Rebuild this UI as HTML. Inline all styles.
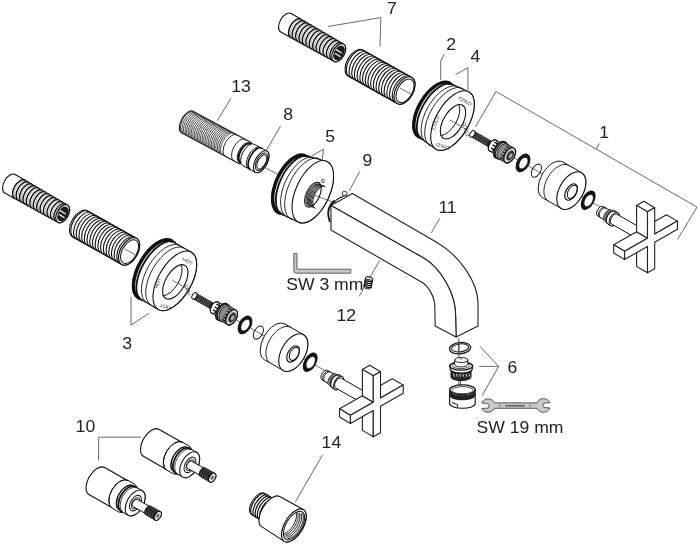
<!DOCTYPE html>
<html><head><meta charset="utf-8"><style>
html,body{margin:0;padding:0;background:#fff;}
svg{display:block;will-change:transform;}
text{font-family:"Liberation Sans",sans-serif;}
</style></head><body>
<svg width="700" height="546" viewBox="0 0 700 546">
<rect width="700" height="546" fill="#fff"/>
<path d="M291.2 13.5L343.6 44.1A5.7 9.9 29.6 0 1 343.7 55.5A5.7 9.9 29.6 0 1 333.8 61.3L280.8 32A6.1 10.6 29.6 0 1 280.7 19.7A6.1 10.6 29.6 0 1 291.2 13.5Z" fill="#fff" stroke="#111" stroke-width="1.1" stroke-linejoin="round"/>
<path d="M290.8 37.5A6 10.5 29.6 0 1 290.7 25.4A6 10.5 29.6 0 1 301.2 19.3" fill="none" stroke="#111" stroke-width="1.4" stroke-linecap="round"/>
<path d="M292.4 38.2A5.9 10.3 29.6 0 1 292.3 26.3A5.9 10.3 29.6 0 1 302.5 20.4" fill="none" stroke="#888" stroke-width="0.6" stroke-linecap="round"/>
<path d="M294.2 39.4A6 10.4 29.6 0 1 294.2 27.4A6 10.4 29.6 0 1 304.5 21.3" fill="none" stroke="#111" stroke-width="1.4" stroke-linecap="round"/>
<path d="M295.8 40.1A5.9 10.2 29.6 0 1 295.8 28.3A5.9 10.2 29.6 0 1 305.9 22.3" fill="none" stroke="#888" stroke-width="0.6" stroke-linecap="round"/>
<path d="M297.7 41.3A6 10.4 29.6 0 1 297.6 29.3A6 10.4 29.6 0 1 307.9 23.3" fill="none" stroke="#111" stroke-width="1.4" stroke-linecap="round"/>
<path d="M299.3 42A5.9 10.2 29.6 0 1 299.2 30.2A5.9 10.2 29.6 0 1 309.3 24.3" fill="none" stroke="#888" stroke-width="0.6" stroke-linecap="round"/>
<path d="M301.1 43.2A6 10.3 29.6 0 1 301 31.3A6 10.3 29.6 0 1 311.3 25.2" fill="none" stroke="#111" stroke-width="1.4" stroke-linecap="round"/>
<path d="M302.7 43.9A5.8 10.1 29.6 0 1 302.6 32.2A5.8 10.1 29.6 0 1 312.7 26.3" fill="none" stroke="#888" stroke-width="0.6" stroke-linecap="round"/>
<path d="M304.5 45.1A5.9 10.3 29.6 0 1 304.4 33.2A5.9 10.3 29.6 0 1 314.7 27.2" fill="none" stroke="#111" stroke-width="1.4" stroke-linecap="round"/>
<path d="M306.1 45.8A5.8 10.1 29.6 0 1 306 34.1A5.8 10.1 29.6 0 1 316 28.2" fill="none" stroke="#888" stroke-width="0.6" stroke-linecap="round"/>
<path d="M307.9 47A5.9 10.2 29.6 0 1 307.9 35.2A5.9 10.2 29.6 0 1 318 29.2" fill="none" stroke="#111" stroke-width="1.4" stroke-linecap="round"/>
<path d="M309.5 47.6A5.8 10 29.6 0 1 309.4 36.1A5.8 10 29.6 0 1 319.4 30.2" fill="none" stroke="#888" stroke-width="0.6" stroke-linecap="round"/>
<path d="M311.4 48.9A5.9 10.2 29.6 0 1 311.3 37.1A5.9 10.2 29.6 0 1 321.4 31.1" fill="none" stroke="#111" stroke-width="1.4" stroke-linecap="round"/>
<path d="M312.9 49.5A5.8 10 29.6 0 1 312.9 38A5.8 10 29.6 0 1 322.8 32.2" fill="none" stroke="#888" stroke-width="0.6" stroke-linecap="round"/>
<path d="M314.8 50.8A5.9 10.2 29.6 0 1 314.7 39.1A5.9 10.2 29.6 0 1 324.8 33.1" fill="none" stroke="#111" stroke-width="1.4" stroke-linecap="round"/>
<path d="M316.4 51.4A5.7 9.9 29.6 0 1 316.3 39.9A5.7 9.9 29.6 0 1 326.2 34.1" fill="none" stroke="#888" stroke-width="0.6" stroke-linecap="round"/>
<path d="M318.2 52.7A5.8 10.1 29.6 0 1 318.1 41A5.8 10.1 29.6 0 1 328.2 35.1" fill="none" stroke="#111" stroke-width="1.4" stroke-linecap="round"/>
<path d="M319.8 53.3A5.7 9.9 29.6 0 1 319.7 41.9A5.7 9.9 29.6 0 1 329.6 36.1" fill="none" stroke="#888" stroke-width="0.6" stroke-linecap="round"/>
<path d="M321.6 54.6A5.8 10.1 29.6 0 1 321.5 42.9A5.8 10.1 29.6 0 1 331.6 37.1" fill="none" stroke="#111" stroke-width="1.4" stroke-linecap="round"/>
<path d="M323.2 55.2A5.7 9.9 29.6 0 1 323.1 43.8A5.7 9.9 29.6 0 1 332.9 38.1" fill="none" stroke="#888" stroke-width="0.6" stroke-linecap="round"/>
<path d="M325 56.4A5.8 10 29.6 0 1 325 44.9A5.8 10 29.6 0 1 334.9 39" fill="none" stroke="#111" stroke-width="1.4" stroke-linecap="round"/>
<path d="M326.6 57.1A5.7 9.8 29.6 0 1 326.5 45.8A5.7 9.8 29.6 0 1 336.3 40" fill="none" stroke="#888" stroke-width="0.6" stroke-linecap="round"/>
<path d="M328.5 58.3A5.8 10 29.6 0 1 328.4 46.8A5.8 10 29.6 0 1 338.3 41" fill="none" stroke="#111" stroke-width="1.4" stroke-linecap="round"/>
<path d="M330 59A5.6 9.8 29.6 0 1 330 47.7A5.6 9.8 29.6 0 1 339.7 42" fill="none" stroke="#888" stroke-width="0.6" stroke-linecap="round"/>
<path d="M331.9 60.2A5.7 9.9 29.6 0 1 331.8 48.8A5.7 9.9 29.6 0 1 341.7 43" fill="none" stroke="#111" stroke-width="1.4" stroke-linecap="round"/>
<path d="M333.5 60.9A5.6 9.7 29.6 0 1 333.4 49.7A5.6 9.7 29.6 0 1 343.1 44" fill="none" stroke="#888" stroke-width="0.6" stroke-linecap="round"/>
<ellipse transform="translate(338.7 52.7) rotate(29.6)" rx="5.7" ry="9.9" fill="#fff" stroke="#111" stroke-width="1.2"/>
<ellipse transform="translate(339 52.9) rotate(29.6)" rx="4.3" ry="7.5" fill="#1e1e1e" stroke="#111" stroke-width="1"/>
<path d="M335.7 49.4 l6 3.6 M335 53.4 l5.5 3.3" stroke="#eee" stroke-width="1.3"/>
<line x1="336.1" y1="51.2" x2="343" y2="55.2" stroke="#333" stroke-width="0.8"/>
<path d="M362.8 49.9L411.9 77.4A8.7 15 29.3 0 1 412.1 94.7A8.7 15 29.3 0 1 397.2 103.6L348.2 76.1A8.7 15 29.3 0 1 348 58.8A8.7 15 29.3 0 1 362.8 49.9Z" fill="#fff" stroke="#111" stroke-width="1.1" stroke-linejoin="round"/>
<path d="M349.5 76.8A8.7 15 29.3 0 1 349.3 59.5A8.7 15 29.3 0 1 364.1 50.7" fill="none" stroke="#111" stroke-width="1.1" stroke-linecap="round"/>
<path d="M352.2 78.3A8.7 15 29.3 0 1 352 61A8.7 15 29.3 0 1 366.9 52.2" fill="none" stroke="#111" stroke-width="1.1" stroke-linecap="round"/>
<path d="M354.9 79.8A8.7 15 29.3 0 1 354.7 62.5A8.7 15 29.3 0 1 369.6 53.7" fill="none" stroke="#111" stroke-width="1.1" stroke-linecap="round"/>
<path d="M357.6 81.4A8.7 15 29.3 0 1 357.4 64A8.7 15 29.3 0 1 372.3 55.2" fill="none" stroke="#111" stroke-width="1.1" stroke-linecap="round"/>
<path d="M360.3 82.9A8.7 15 29.3 0 1 360.1 65.6A8.7 15 29.3 0 1 375 56.7" fill="none" stroke="#111" stroke-width="1.1" stroke-linecap="round"/>
<path d="M363 84.4A8.7 15 29.3 0 1 362.8 67.1A8.7 15 29.3 0 1 377.7 58.2" fill="none" stroke="#111" stroke-width="1.1" stroke-linecap="round"/>
<path d="M365.7 85.9A8.7 15 29.3 0 1 365.5 68.6A8.7 15 29.3 0 1 380.4 59.8" fill="none" stroke="#111" stroke-width="1.1" stroke-linecap="round"/>
<path d="M368.4 87.4A8.7 15 29.3 0 1 368.2 70.1A8.7 15 29.3 0 1 383.1 61.3" fill="none" stroke="#111" stroke-width="1.1" stroke-linecap="round"/>
<path d="M371.1 89A8.7 15 29.3 0 1 370.9 71.6A8.7 15 29.3 0 1 385.8 62.8" fill="none" stroke="#111" stroke-width="1.1" stroke-linecap="round"/>
<path d="M373.8 90.5A8.7 15 29.3 0 1 373.6 73.2A8.7 15 29.3 0 1 388.5 64.3" fill="none" stroke="#111" stroke-width="1.1" stroke-linecap="round"/>
<path d="M376.5 92A8.7 15 29.3 0 1 376.3 74.7A8.7 15 29.3 0 1 391.2 65.8" fill="none" stroke="#111" stroke-width="1.1" stroke-linecap="round"/>
<path d="M379.2 93.5A8.7 15 29.3 0 1 379 76.2A8.7 15 29.3 0 1 393.9 67.3" fill="none" stroke="#111" stroke-width="1.1" stroke-linecap="round"/>
<path d="M381.9 95A8.7 15 29.3 0 1 381.7 77.7A8.7 15 29.3 0 1 396.6 68.9" fill="none" stroke="#111" stroke-width="1.1" stroke-linecap="round"/>
<path d="M384.6 96.5A8.7 15 29.3 0 1 384.4 79.2A8.7 15 29.3 0 1 399.3 70.4" fill="none" stroke="#111" stroke-width="1.1" stroke-linecap="round"/>
<path d="M387.3 98.1A8.7 15 29.3 0 1 387.1 80.7A8.7 15 29.3 0 1 402 71.9" fill="none" stroke="#111" stroke-width="1.1" stroke-linecap="round"/>
<path d="M390 99.6A8.7 15 29.3 0 1 389.8 82.3A8.7 15 29.3 0 1 404.7 73.4" fill="none" stroke="#111" stroke-width="1.1" stroke-linecap="round"/>
<path d="M392.7 101.1A8.7 15 29.3 0 1 392.5 83.8A8.7 15 29.3 0 1 407.4 74.9" fill="none" stroke="#111" stroke-width="1.1" stroke-linecap="round"/>
<path d="M395.4 102.6A8.7 15 29.3 0 1 395.2 85.3A8.7 15 29.3 0 1 410.1 76.4" fill="none" stroke="#111" stroke-width="1.1" stroke-linecap="round"/>
<ellipse transform="translate(404.5 90.5) rotate(29.3)" rx="8.7" ry="15" fill="#fff" stroke="#111" stroke-width="1.2"/>
<ellipse transform="translate(405 90.8) rotate(29.3)" rx="7.4" ry="12.9" fill="#fff" stroke="#111" stroke-width="1"/>
<line x1="400.1" y1="88.1" x2="411.5" y2="94.4" stroke="#333" stroke-width="0.7"/>
<path d="M448.9 82.8L469 92A16.5 33 30 0 1 466.8 128.8A16.5 33 30 0 1 436 149.2L417.9 136.4A15.5 31 30 0 1 420 101.8A15.5 31 30 0 1 448.9 82.8Z" fill="#fff" stroke="#111" stroke-width="1.1" stroke-linejoin="round"/>
<path d="M418.8 136.9A15.5 31 30 0 1 420.9 102.3A15.5 31 30 0 1 449.8 83.3" fill="none" stroke="#111" stroke-width="3.4" stroke-linecap="round"/>
<path d="M421.8 139A15.7 31.3 30 0 1 423.9 104.1A15.7 31.3 30 0 1 453.1 84.8" fill="none" stroke="#111" stroke-width="1.8" stroke-linecap="round"/>
<path d="M426.1 142.3A16 32 30 0 1 428.3 106.6A16 32 30 0 1 458.1 86.9" fill="none" stroke="#111" stroke-width="0.9" stroke-linecap="round"/>
<path d="M429.9 145.7A16.5 33 30 0 1 432.1 108.8A16.5 33 30 0 1 462.9 88.5" fill="none" stroke="#111" stroke-width="0.9" stroke-linecap="round"/>
<ellipse transform="translate(452.5 120.6) rotate(30)" rx="16.5" ry="33" fill="#fff" stroke="#111" stroke-width="1.1"/>
<ellipse transform="translate(453 121.8) rotate(30)" rx="9.6" ry="19.1" fill="#fff" stroke="#111" stroke-width="1.1"/>
<path d="M458.8 104.3A9.4 18.8 30 0 1 455.6 123.3A9.4 18.8 30 0 1 440.7 135.6" fill="none" stroke="#111" stroke-width="1" stroke-linecap="round"/>
<line x1="450.1" y1="120.1" x2="466.1" y2="129.3" stroke="#333" stroke-width="0.7"/>
<text transform="translate(464.5 102.6) rotate(28) scale(1 0.9)" font-size="5.2" text-anchor="middle" fill="#222">COLD</text>
<text transform="translate(437 123.3) rotate(-72) scale(1 0.9)" font-size="5.2" text-anchor="middle" fill="#222">COLD</text>
<text transform="translate(467.3 129.1) rotate(-105) scale(1 0.9)" font-size="5.2" text-anchor="middle" fill="#222">COLD</text>
<text transform="translate(443.5 144.6) rotate(195) scale(1 0.9)" font-size="5.2" text-anchor="middle" fill="#222">COLD</text>
<line x1="472.4" y1="133.9" x2="646" y2="233.3" stroke="#333" stroke-width="0.7"/>
<path d="M473.9 131.3L491.2 141.2A1.7 3 29.8 0 1 491.3 144.7A1.7 3 29.8 0 1 488.3 146.4L470.9 136.5A1.7 3 29.8 0 1 470.9 133A1.7 3 29.8 0 1 473.9 131.3Z" fill="#fff" stroke="#111" stroke-width="1" stroke-linejoin="round"/>
<path d="M476.5 132.8L491.2 141.2A1.7 3 29.8 0 1 491.3 144.7A1.7 3 29.8 0 1 488.3 146.4L473.5 138A1.7 3 29.8 0 1 473.5 134.5A1.7 3 29.8 0 1 476.5 132.8Z" fill="#222" stroke="#111" stroke-width="1" stroke-linejoin="round"/>
<path d="M474.4 138.5A1.7 3 29.8 0 1 474.4 135A1.7 3 29.8 0 1 477.4 133.3" fill="none" stroke="#888" stroke-width="0.6" stroke-linecap="round"/>
<path d="M476.1 139.5A1.7 3 29.8 0 1 476.1 136A1.7 3 29.8 0 1 479.1 134.3" fill="none" stroke="#888" stroke-width="0.6" stroke-linecap="round"/>
<path d="M477.9 140.5A1.7 3 29.8 0 1 477.8 137A1.7 3 29.8 0 1 480.8 135.3" fill="none" stroke="#888" stroke-width="0.6" stroke-linecap="round"/>
<path d="M479.6 141.5A1.7 3 29.8 0 1 479.6 138A1.7 3 29.8 0 1 482.6 136.3" fill="none" stroke="#888" stroke-width="0.6" stroke-linecap="round"/>
<path d="M481.3 142.5A1.7 3 29.8 0 1 481.3 139A1.7 3 29.8 0 1 484.3 137.3" fill="none" stroke="#888" stroke-width="0.6" stroke-linecap="round"/>
<path d="M483.1 143.5A1.7 3 29.8 0 1 483 140A1.7 3 29.8 0 1 486 138.3" fill="none" stroke="#888" stroke-width="0.6" stroke-linecap="round"/>
<path d="M484.8 144.5A1.7 3 29.8 0 1 484.8 141A1.7 3 29.8 0 1 487.8 139.2" fill="none" stroke="#888" stroke-width="0.6" stroke-linecap="round"/>
<path d="M486.5 145.4A1.7 3 29.8 0 1 486.5 142A1.7 3 29.8 0 1 489.5 140.2" fill="none" stroke="#888" stroke-width="0.6" stroke-linecap="round"/>
<ellipse transform="translate(472.4 133.9) rotate(29.8)" rx="2.1" ry="3.6" fill="#fff" stroke="#111" stroke-width="1"/>
<path d="M496 140L503.3 144.2A3.7 6.4 29.8 0 1 503.4 151.6A3.7 6.4 29.8 0 1 497 155.4L489.6 151.1A3.7 6.4 29.8 0 1 489.6 143.7A3.7 6.4 29.8 0 1 496 140Z" fill="#fff" stroke="#111" stroke-width="1" stroke-linejoin="round"/>
<line x1="494.2" y1="142" x2="501.6" y2="146.3" stroke="#111" stroke-width="1.4"/>
<line x1="492.6" y1="144.9" x2="500" y2="149.1" stroke="#111" stroke-width="1.4"/>
<line x1="491" y1="147.8" x2="498.3" y2="152" stroke="#111" stroke-width="1.4"/>
<ellipse transform="translate(492.8 145.6) rotate(29.8)" rx="3.7" ry="6.4" fill="none" stroke="#111" stroke-width="1.1"/>
<path d="M504.7 141.8L507.3 143.3A5.3 9.2 29.8 0 1 507.4 153.9A5.3 9.2 29.8 0 1 498.2 159.3L495.6 157.8A5.3 9.2 29.8 0 1 495.6 147.2A5.3 9.2 29.8 0 1 504.7 141.8Z" fill="#fff" stroke="#111" stroke-width="1" stroke-linejoin="round"/>
<path d="M495.8 157.9A5.3 9.2 29.8 0 1 495.7 147.3A5.3 9.2 29.8 0 1 504.9 141.9" fill="none" stroke="#111" stroke-width="1.6" stroke-linecap="round"/>
<path d="M497.2 158.7A5.3 9.2 29.8 0 1 497.1 148.1A5.3 9.2 29.8 0 1 506.3 142.7" fill="none" stroke="#111" stroke-width="1.2" stroke-linecap="round"/>
<path d="M506.9 144L513.9 148A4.8 8.4 29.8 0 1 513.9 157.7A4.8 8.4 29.8 0 1 505.5 162.6L498.6 158.6A4.8 8.4 29.8 0 1 498.6 148.9A4.8 8.4 29.8 0 1 506.9 144Z" fill="#8a8a8a" stroke="#111" stroke-width="1" stroke-linejoin="round"/>
<line x1="506.2" y1="146.3" x2="512.7" y2="150.1" stroke="#111" stroke-width="1.2"/>
<line x1="504.6" y1="149.1" x2="511.1" y2="152.8" stroke="#111" stroke-width="1.2"/>
<line x1="503" y1="151.9" x2="509.5" y2="155.6" stroke="#111" stroke-width="1.2"/>
<line x1="501.4" y1="154.7" x2="507.9" y2="158.4" stroke="#111" stroke-width="1.2"/>
<line x1="500" y1="157.2" x2="506.5" y2="160.9" stroke="#111" stroke-width="1.2"/>
<ellipse transform="translate(509.7 155.3) rotate(29.8)" rx="4.8" ry="8.4" fill="#ddd" stroke="#111" stroke-width="1.3"/>
<ellipse transform="translate(510.1 155.5) rotate(29.8)" rx="3.2" ry="5.6" fill="#333" stroke="#111" stroke-width="0"/>
<ellipse transform="translate(510.6 155.8) rotate(29.8)" rx="1.5" ry="2.6" fill="#aaa" stroke="#111" stroke-width="0"/>
<ellipse transform="translate(523 162.9) rotate(29.8)" rx="6.3" ry="10.1" fill="#151515" stroke="#111" stroke-width="0"/>
<ellipse transform="translate(523.4 163.1) rotate(29.8)" rx="3.8" ry="6.3" fill="#fff" stroke="#111" stroke-width="0.6"/>
<ellipse transform="translate(536.4 170.6) rotate(29.8)" rx="4.2" ry="7.2" fill="none" stroke="#111" stroke-width="0.9"/>
<path d="M562.9 162L581.6 172.7A11.9 20.6 29.8 0 1 581.6 196.5A11.9 20.6 29.8 0 1 561.1 208.4L542.4 197.7A11.9 20.6 29.8 0 1 542.4 174A11.9 20.6 29.8 0 1 562.9 162Z" fill="#fff" stroke="#111" stroke-width="1" stroke-linejoin="round"/>
<path d="M548.1 201A11.9 20.6 29.8 0 1 548 177.2A11.9 20.6 29.8 0 1 568.5 165.2" fill="none" stroke="#111" stroke-width="0.9" stroke-linecap="round"/>
<ellipse transform="translate(571.3 190.6) rotate(29.8)" rx="11.9" ry="20.6" fill="#fff" stroke="#111" stroke-width="1.1"/>
<ellipse transform="translate(571.1 192) rotate(29.8)" rx="5.2" ry="9" fill="#fff" stroke="#111" stroke-width="1.2"/>
<ellipse transform="translate(572.3 191.8) rotate(29.8)" rx="4.2" ry="7.2" fill="none" stroke="#111" stroke-width="1"/>
<ellipse transform="translate(588.2 200.2) rotate(29.8)" rx="6.1" ry="10.6" fill="#111" stroke="#111" stroke-width="0"/>
<ellipse transform="translate(588.7 200.5) rotate(29.8)" rx="3.8" ry="6.6" fill="#fff" stroke="#111" stroke-width="0.6"/>
<path d="M603.1 206.5L611.4 211.2A3.2 5.5 29.8 0 1 611.4 217.5A3.2 5.5 29.8 0 1 605.9 220.7L597.7 216A3.2 5.5 29.8 0 1 597.6 209.7A3.2 5.5 29.8 0 1 603.1 206.5Z" fill="#fff" stroke="#111" stroke-width="1" stroke-linejoin="round"/>
<path d="M599.4 217A3.2 5.5 29.8 0 1 599.4 210.7A3.2 5.5 29.8 0 1 604.9 207.5" fill="none" stroke="#111" stroke-width="0.9" stroke-linecap="round"/>
<path d="M600.4 217.6A3.2 5.5 29.8 0 1 600.4 211.2A3.2 5.5 29.8 0 1 605.9 208.1" fill="none" stroke="#111" stroke-width="0.8" stroke-linecap="round"/>
<path d="M611.5 210L614.5 211.7A3.8 6.6 29.8 0 1 614.5 219.3A3.8 6.6 29.8 0 1 608 223.2L604.9 221.4A3.8 6.6 29.8 0 1 604.9 213.8A3.8 6.6 29.8 0 1 611.5 210Z" fill="#333" stroke="#111" stroke-width="1" stroke-linejoin="round"/>
<path d="M605.4 221.7A3.8 6.6 29.8 0 1 605.3 214.1A3.8 6.6 29.8 0 1 611.9 210.2" fill="none" stroke="#aaa" stroke-width="0.7" stroke-linecap="round"/>
<path d="M606.3 222.2A3.8 6.6 29.8 0 1 606.3 214.6A3.8 6.6 29.8 0 1 612.9 210.8" fill="none" stroke="#aaa" stroke-width="0.7" stroke-linecap="round"/>
<path d="M607.3 222.8A3.8 6.6 29.8 0 1 607.2 215.2A3.8 6.6 29.8 0 1 613.8 211.3" fill="none" stroke="#aaa" stroke-width="0.7" stroke-linecap="round"/>
<path d="M614.9 211L618 212.8A4.3 7.4 29.8 0 1 618 221.3A4.3 7.4 29.8 0 1 610.6 225.6L607.6 223.9A4.3 7.4 29.8 0 1 607.5 215.3A4.3 7.4 29.8 0 1 614.9 211Z" fill="#fff" stroke="#111" stroke-width="1" stroke-linejoin="round"/>
<path d="M607.8 224A4.3 7.4 29.8 0 1 607.8 215.5A4.3 7.4 29.8 0 1 615.2 211.2" fill="none" stroke="#111" stroke-width="1" stroke-linecap="round"/>
<ellipse transform="translate(614.3 219.2) rotate(29.8)" rx="4.3" ry="7.4" fill="#fff" stroke="#111" stroke-width="1"/>
<path d="M617.1 214.3L644.8 230.2A3.2 5.6 29.8 0 1 644.8 236.7A3.2 5.6 29.8 0 1 639.3 239.9L611.5 224A3.2 5.6 29.8 0 1 611.5 217.6A3.2 5.6 29.8 0 1 617.1 214.3Z" fill="#fff" stroke="#111" stroke-width="1" stroke-linejoin="round"/>
<path d="M647.5 246.4 L647.5 272.8 L636.6 266.4 L636.6 240Z" fill="#fff" stroke="#222" stroke-width="1.1" stroke-linejoin="round"/>
<path d="M647.5 211.8 L654.7 207.7 L643.9 201.2 L636.6 205.4Z" fill="#fff" stroke="#222" stroke-width="1.1" stroke-linejoin="round"/>
<path d="M654.7 234.1 L677.4 221.1 L666.5 214.7 L643.9 227.6Z" fill="#fff" stroke="#222" stroke-width="1.1" stroke-linejoin="round"/>
<path d="M624.6 251.3 L647.5 238.2 L636.6 231.8 L613.7 244.8Z" fill="#fff" stroke="#222" stroke-width="1.1" stroke-linejoin="round"/>
<path d="M647.5 211.8 L647.5 238.2 L636.6 231.8 L636.6 205.4Z" fill="#fff" stroke="#222" stroke-width="1.1" stroke-linejoin="round"/>
<path d="M624.6 251.3 L624.6 259.5 L613.7 253 L613.7 244.8Z" fill="#fff" stroke="#222" stroke-width="1.1" stroke-linejoin="round"/>
<path d="M647.5 211.8 L654.7 207.7 L654.7 234.1 L677.4 221.1 L677.4 229.3 L654.7 242.3 L654.7 268.7 L647.5 272.8 L647.5 246.4 L624.6 259.5 L624.6 251.3 L647.5 238.2Z" fill="#fff" stroke="#222" stroke-width="1.1" stroke-linejoin="round"/>
<path d="M15.2 174.5L67.6 205.1A5.7 9.9 29.6 0 1 67.7 216.5A5.7 9.9 29.6 0 1 57.8 222.3L4.8 193A6.1 10.6 29.6 0 1 4.7 180.7A6.1 10.6 29.6 0 1 15.2 174.5Z" fill="#fff" stroke="#111" stroke-width="1.1" stroke-linejoin="round"/>
<path d="M14.8 198.5A6 10.5 29.6 0 1 14.7 186.4A6 10.5 29.6 0 1 25.2 180.3" fill="none" stroke="#111" stroke-width="1.4" stroke-linecap="round"/>
<path d="M16.4 199.2A5.9 10.3 29.6 0 1 16.3 187.3A5.9 10.3 29.6 0 1 26.5 181.4" fill="none" stroke="#888" stroke-width="0.6" stroke-linecap="round"/>
<path d="M18.2 200.4A6 10.4 29.6 0 1 18.2 188.4A6 10.4 29.6 0 1 28.5 182.3" fill="none" stroke="#111" stroke-width="1.4" stroke-linecap="round"/>
<path d="M19.8 201.1A5.9 10.2 29.6 0 1 19.8 189.3A5.9 10.2 29.6 0 1 29.9 183.3" fill="none" stroke="#888" stroke-width="0.6" stroke-linecap="round"/>
<path d="M21.7 202.3A6 10.4 29.6 0 1 21.6 190.3A6 10.4 29.6 0 1 31.9 184.3" fill="none" stroke="#111" stroke-width="1.4" stroke-linecap="round"/>
<path d="M23.3 203A5.9 10.2 29.6 0 1 23.2 191.2A5.9 10.2 29.6 0 1 33.3 185.3" fill="none" stroke="#888" stroke-width="0.6" stroke-linecap="round"/>
<path d="M25.1 204.2A6 10.3 29.6 0 1 25 192.3A6 10.3 29.6 0 1 35.3 186.2" fill="none" stroke="#111" stroke-width="1.4" stroke-linecap="round"/>
<path d="M26.7 204.9A5.8 10.1 29.6 0 1 26.6 193.2A5.8 10.1 29.6 0 1 36.7 187.3" fill="none" stroke="#888" stroke-width="0.6" stroke-linecap="round"/>
<path d="M28.5 206.1A5.9 10.3 29.6 0 1 28.4 194.2A5.9 10.3 29.6 0 1 38.7 188.2" fill="none" stroke="#111" stroke-width="1.4" stroke-linecap="round"/>
<path d="M30.1 206.8A5.8 10.1 29.6 0 1 30 195.1A5.8 10.1 29.6 0 1 40 189.2" fill="none" stroke="#888" stroke-width="0.6" stroke-linecap="round"/>
<path d="M31.9 208A5.9 10.2 29.6 0 1 31.9 196.2A5.9 10.2 29.6 0 1 42 190.2" fill="none" stroke="#111" stroke-width="1.4" stroke-linecap="round"/>
<path d="M33.5 208.6A5.8 10 29.6 0 1 33.4 197.1A5.8 10 29.6 0 1 43.4 191.2" fill="none" stroke="#888" stroke-width="0.6" stroke-linecap="round"/>
<path d="M35.4 209.9A5.9 10.2 29.6 0 1 35.3 198.1A5.9 10.2 29.6 0 1 45.4 192.1" fill="none" stroke="#111" stroke-width="1.4" stroke-linecap="round"/>
<path d="M36.9 210.5A5.8 10 29.6 0 1 36.9 199A5.8 10 29.6 0 1 46.8 193.2" fill="none" stroke="#888" stroke-width="0.6" stroke-linecap="round"/>
<path d="M38.8 211.8A5.9 10.2 29.6 0 1 38.7 200.1A5.9 10.2 29.6 0 1 48.8 194.1" fill="none" stroke="#111" stroke-width="1.4" stroke-linecap="round"/>
<path d="M40.4 212.4A5.7 9.9 29.6 0 1 40.3 200.9A5.7 9.9 29.6 0 1 50.2 195.1" fill="none" stroke="#888" stroke-width="0.6" stroke-linecap="round"/>
<path d="M42.2 213.7A5.8 10.1 29.6 0 1 42.1 202A5.8 10.1 29.6 0 1 52.2 196.1" fill="none" stroke="#111" stroke-width="1.4" stroke-linecap="round"/>
<path d="M43.8 214.3A5.7 9.9 29.6 0 1 43.7 202.9A5.7 9.9 29.6 0 1 53.6 197.1" fill="none" stroke="#888" stroke-width="0.6" stroke-linecap="round"/>
<path d="M45.6 215.6A5.8 10.1 29.6 0 1 45.5 203.9A5.8 10.1 29.6 0 1 55.6 198.1" fill="none" stroke="#111" stroke-width="1.4" stroke-linecap="round"/>
<path d="M47.2 216.2A5.7 9.9 29.6 0 1 47.1 204.8A5.7 9.9 29.6 0 1 56.9 199.1" fill="none" stroke="#888" stroke-width="0.6" stroke-linecap="round"/>
<path d="M49 217.4A5.8 10 29.6 0 1 49 205.9A5.8 10 29.6 0 1 58.9 200" fill="none" stroke="#111" stroke-width="1.4" stroke-linecap="round"/>
<path d="M50.6 218.1A5.7 9.8 29.6 0 1 50.5 206.8A5.7 9.8 29.6 0 1 60.3 201" fill="none" stroke="#888" stroke-width="0.6" stroke-linecap="round"/>
<path d="M52.5 219.3A5.8 10 29.6 0 1 52.4 207.8A5.8 10 29.6 0 1 62.3 202" fill="none" stroke="#111" stroke-width="1.4" stroke-linecap="round"/>
<path d="M54 220A5.6 9.8 29.6 0 1 54 208.7A5.6 9.8 29.6 0 1 63.7 203" fill="none" stroke="#888" stroke-width="0.6" stroke-linecap="round"/>
<path d="M55.9 221.2A5.7 9.9 29.6 0 1 55.8 209.8A5.7 9.9 29.6 0 1 65.7 204" fill="none" stroke="#111" stroke-width="1.4" stroke-linecap="round"/>
<path d="M57.5 221.9A5.6 9.7 29.6 0 1 57.4 210.7A5.6 9.7 29.6 0 1 67.1 205" fill="none" stroke="#888" stroke-width="0.6" stroke-linecap="round"/>
<ellipse transform="translate(62.7 213.7) rotate(29.6)" rx="5.7" ry="9.9" fill="#fff" stroke="#111" stroke-width="1.2"/>
<ellipse transform="translate(63 213.9) rotate(29.6)" rx="4.3" ry="7.5" fill="#1e1e1e" stroke="#111" stroke-width="1"/>
<path d="M59.7 210.4 l6 3.6 M59 214.4 l5.5 3.3" stroke="#eee" stroke-width="1.3"/>
<line x1="60.1" y1="212.2" x2="67" y2="216.2" stroke="#333" stroke-width="0.8"/>
<path d="M87.4 210.8L136.4 238.3A8.7 15 29.3 0 1 136.6 255.6A8.7 15 29.3 0 1 121.7 264.4L72.7 236.9A8.7 15 29.3 0 1 72.5 219.6A8.7 15 29.3 0 1 87.4 210.8Z" fill="#fff" stroke="#111" stroke-width="1.1" stroke-linejoin="round"/>
<path d="M74 237.7A8.7 15 29.3 0 1 73.8 220.3A8.7 15 29.3 0 1 88.7 211.5" fill="none" stroke="#111" stroke-width="1.1" stroke-linecap="round"/>
<path d="M76.7 239.2A8.7 15 29.3 0 1 76.5 221.9A8.7 15 29.3 0 1 91.4 213" fill="none" stroke="#111" stroke-width="1.1" stroke-linecap="round"/>
<path d="M79.4 240.7A8.7 15 29.3 0 1 79.2 223.4A8.7 15 29.3 0 1 94.1 214.5" fill="none" stroke="#111" stroke-width="1.1" stroke-linecap="round"/>
<path d="M82.1 242.2A8.7 15 29.3 0 1 81.9 224.9A8.7 15 29.3 0 1 96.8 216.1" fill="none" stroke="#111" stroke-width="1.1" stroke-linecap="round"/>
<path d="M84.8 243.7A8.7 15 29.3 0 1 84.6 226.4A8.7 15 29.3 0 1 99.5 217.6" fill="none" stroke="#111" stroke-width="1.1" stroke-linecap="round"/>
<path d="M87.5 245.3A8.7 15 29.3 0 1 87.3 227.9A8.7 15 29.3 0 1 102.2 219.1" fill="none" stroke="#111" stroke-width="1.1" stroke-linecap="round"/>
<path d="M90.2 246.8A8.7 15 29.3 0 1 90 229.5A8.7 15 29.3 0 1 104.9 220.6" fill="none" stroke="#111" stroke-width="1.1" stroke-linecap="round"/>
<path d="M92.9 248.3A8.7 15 29.3 0 1 92.7 231A8.7 15 29.3 0 1 107.6 222.1" fill="none" stroke="#111" stroke-width="1.1" stroke-linecap="round"/>
<path d="M95.6 249.8A8.7 15 29.3 0 1 95.4 232.5A8.7 15 29.3 0 1 110.3 223.6" fill="none" stroke="#111" stroke-width="1.1" stroke-linecap="round"/>
<path d="M98.3 251.3A8.7 15 29.3 0 1 98.1 234A8.7 15 29.3 0 1 113 225.2" fill="none" stroke="#111" stroke-width="1.1" stroke-linecap="round"/>
<path d="M101.1 252.8A8.7 15 29.3 0 1 100.8 235.5A8.7 15 29.3 0 1 115.7 226.7" fill="none" stroke="#111" stroke-width="1.1" stroke-linecap="round"/>
<path d="M103.8 254.4A8.7 15 29.3 0 1 103.5 237A8.7 15 29.3 0 1 118.4 228.2" fill="none" stroke="#111" stroke-width="1.1" stroke-linecap="round"/>
<path d="M106.5 255.9A8.7 15 29.3 0 1 106.3 238.6A8.7 15 29.3 0 1 121.1 229.7" fill="none" stroke="#111" stroke-width="1.1" stroke-linecap="round"/>
<path d="M109.2 257.4A8.7 15 29.3 0 1 109 240.1A8.7 15 29.3 0 1 123.8 231.2" fill="none" stroke="#111" stroke-width="1.1" stroke-linecap="round"/>
<path d="M111.9 258.9A8.7 15 29.3 0 1 111.7 241.6A8.7 15 29.3 0 1 126.5 232.7" fill="none" stroke="#111" stroke-width="1.1" stroke-linecap="round"/>
<path d="M114.6 260.4A8.7 15 29.3 0 1 114.4 243.1A8.7 15 29.3 0 1 129.3 234.3" fill="none" stroke="#111" stroke-width="1.1" stroke-linecap="round"/>
<path d="M117.3 261.9A8.7 15 29.3 0 1 117.1 244.6A8.7 15 29.3 0 1 132 235.8" fill="none" stroke="#111" stroke-width="1.1" stroke-linecap="round"/>
<path d="M120 263.5A8.7 15 29.3 0 1 119.8 246.1A8.7 15 29.3 0 1 134.7 237.3" fill="none" stroke="#111" stroke-width="1.1" stroke-linecap="round"/>
<ellipse transform="translate(129.1 251.4) rotate(29.3)" rx="8.7" ry="15" fill="#fff" stroke="#111" stroke-width="1.2"/>
<ellipse transform="translate(129.6 251.6) rotate(29.3)" rx="7.4" ry="12.9" fill="#fff" stroke="#111" stroke-width="1"/>
<line x1="124.7" y1="248.9" x2="136" y2="255.3" stroke="#333" stroke-width="0.7"/>
<path d="M170.9 240.5L191.3 252.2A16.5 33 30 0 1 189.1 289.1A16.5 33 30 0 1 158.3 309.4L137.9 297.6A16.5 33 30 0 1 140.2 260.8A16.5 33 30 0 1 170.9 240.5Z" fill="#fff" stroke="#111" stroke-width="1.1" stroke-linejoin="round"/>
<path d="M138.8 298.1A16.5 33 30 0 1 141 261.3A16.5 33 30 0 1 171.8 241" fill="none" stroke="#111" stroke-width="3.4" stroke-linecap="round"/>
<path d="M141.8 300.2A16.6 33.3 30 0 1 144 263A16.6 33.3 30 0 1 175.1 242.5" fill="none" stroke="#111" stroke-width="1.8" stroke-linecap="round"/>
<path d="M146.6 302.6A16.5 33 30 0 1 148.8 265.8A16.5 33 30 0 1 179.6 245.5" fill="none" stroke="#111" stroke-width="0.9" stroke-linecap="round"/>
<path d="M150.9 305.1A16.5 33 30 0 1 153.1 268.3A16.5 33 30 0 1 183.9 248" fill="none" stroke="#111" stroke-width="0.9" stroke-linecap="round"/>
<ellipse transform="translate(174.8 280.8) rotate(30)" rx="16.5" ry="33" fill="#fff" stroke="#111" stroke-width="1.1"/>
<ellipse transform="translate(175.3 281.9) rotate(30)" rx="9.6" ry="19.1" fill="#fff" stroke="#111" stroke-width="1.1"/>
<path d="M181.1 264.5A9.4 18.8 30 0 1 177.9 283.5A9.4 18.8 30 0 1 163 295.8" fill="none" stroke="#111" stroke-width="1" stroke-linecap="round"/>
<line x1="172.4" y1="280.3" x2="188.4" y2="289.6" stroke="#333" stroke-width="0.7"/>
<text transform="translate(186.8 262.8) rotate(28) scale(1 0.9)" font-size="5.2" text-anchor="middle" fill="#222">HOT</text>
<text transform="translate(159.3 283.5) rotate(-72) scale(1 0.9)" font-size="5.2" text-anchor="middle" fill="#222">HOT</text>
<text transform="translate(189.6 289.3) rotate(-105) scale(1 0.9)" font-size="5.2" text-anchor="middle" fill="#222">HOT</text>
<text transform="translate(165.8 304.8) rotate(195) scale(1 0.9)" font-size="5.2" text-anchor="middle" fill="#222">HOT</text>
<line x1="194.4" y1="295.9" x2="368" y2="395.3" stroke="#333" stroke-width="0.7"/>
<path d="M195.9 293.3L213.2 303.2A1.7 3 29.8 0 1 213.3 306.7A1.7 3 29.8 0 1 210.3 308.4L192.9 298.5A1.7 3 29.8 0 1 192.9 295A1.7 3 29.8 0 1 195.9 293.3Z" fill="#fff" stroke="#111" stroke-width="1" stroke-linejoin="round"/>
<path d="M198.5 294.8L213.2 303.2A1.7 3 29.8 0 1 213.3 306.7A1.7 3 29.8 0 1 210.3 308.4L195.5 300A1.7 3 29.8 0 1 195.5 296.5A1.7 3 29.8 0 1 198.5 294.8Z" fill="#222" stroke="#111" stroke-width="1" stroke-linejoin="round"/>
<path d="M196.4 300.5A1.7 3 29.8 0 1 196.4 297A1.7 3 29.8 0 1 199.4 295.3" fill="none" stroke="#888" stroke-width="0.6" stroke-linecap="round"/>
<path d="M198.1 301.5A1.7 3 29.8 0 1 198.1 298A1.7 3 29.8 0 1 201.1 296.3" fill="none" stroke="#888" stroke-width="0.6" stroke-linecap="round"/>
<path d="M199.9 302.5A1.7 3 29.8 0 1 199.8 299A1.7 3 29.8 0 1 202.8 297.3" fill="none" stroke="#888" stroke-width="0.6" stroke-linecap="round"/>
<path d="M201.6 303.5A1.7 3 29.8 0 1 201.6 300A1.7 3 29.8 0 1 204.6 298.3" fill="none" stroke="#888" stroke-width="0.6" stroke-linecap="round"/>
<path d="M203.3 304.5A1.7 3 29.8 0 1 203.3 301A1.7 3 29.8 0 1 206.3 299.3" fill="none" stroke="#888" stroke-width="0.6" stroke-linecap="round"/>
<path d="M205.1 305.5A1.7 3 29.8 0 1 205 302A1.7 3 29.8 0 1 208 300.3" fill="none" stroke="#888" stroke-width="0.6" stroke-linecap="round"/>
<path d="M206.8 306.5A1.7 3 29.8 0 1 206.8 303A1.7 3 29.8 0 1 209.8 301.2" fill="none" stroke="#888" stroke-width="0.6" stroke-linecap="round"/>
<path d="M208.5 307.4A1.7 3 29.8 0 1 208.5 304A1.7 3 29.8 0 1 211.5 302.2" fill="none" stroke="#888" stroke-width="0.6" stroke-linecap="round"/>
<ellipse transform="translate(194.4 295.9) rotate(29.8)" rx="2.1" ry="3.6" fill="#fff" stroke="#111" stroke-width="1"/>
<path d="M218 302L225.3 306.2A3.7 6.4 29.8 0 1 225.4 313.6A3.7 6.4 29.8 0 1 219 317.4L211.6 313.1A3.7 6.4 29.8 0 1 211.6 305.7A3.7 6.4 29.8 0 1 218 302Z" fill="#fff" stroke="#111" stroke-width="1" stroke-linejoin="round"/>
<line x1="216.2" y1="304" x2="223.6" y2="308.3" stroke="#111" stroke-width="1.4"/>
<line x1="214.6" y1="306.9" x2="222" y2="311.1" stroke="#111" stroke-width="1.4"/>
<line x1="213" y1="309.8" x2="220.3" y2="314" stroke="#111" stroke-width="1.4"/>
<ellipse transform="translate(214.8 307.6) rotate(29.8)" rx="3.7" ry="6.4" fill="none" stroke="#111" stroke-width="1.1"/>
<path d="M226.7 303.8L229.3 305.3A5.3 9.2 29.8 0 1 229.4 315.9A5.3 9.2 29.8 0 1 220.2 321.3L217.6 319.8A5.3 9.2 29.8 0 1 217.6 309.2A5.3 9.2 29.8 0 1 226.7 303.8Z" fill="#fff" stroke="#111" stroke-width="1" stroke-linejoin="round"/>
<path d="M217.8 319.9A5.3 9.2 29.8 0 1 217.7 309.3A5.3 9.2 29.8 0 1 226.9 303.9" fill="none" stroke="#111" stroke-width="1.6" stroke-linecap="round"/>
<path d="M219.2 320.7A5.3 9.2 29.8 0 1 219.1 310.1A5.3 9.2 29.8 0 1 228.3 304.7" fill="none" stroke="#111" stroke-width="1.2" stroke-linecap="round"/>
<path d="M228.9 306L235.9 310A4.8 8.4 29.8 0 1 235.9 319.7A4.8 8.4 29.8 0 1 227.5 324.6L220.6 320.6A4.8 8.4 29.8 0 1 220.6 310.9A4.8 8.4 29.8 0 1 228.9 306Z" fill="#8a8a8a" stroke="#111" stroke-width="1" stroke-linejoin="round"/>
<line x1="228.2" y1="308.3" x2="234.7" y2="312.1" stroke="#111" stroke-width="1.2"/>
<line x1="226.6" y1="311.1" x2="233.1" y2="314.8" stroke="#111" stroke-width="1.2"/>
<line x1="225" y1="313.9" x2="231.5" y2="317.6" stroke="#111" stroke-width="1.2"/>
<line x1="223.4" y1="316.7" x2="229.9" y2="320.4" stroke="#111" stroke-width="1.2"/>
<line x1="222" y1="319.2" x2="228.5" y2="322.9" stroke="#111" stroke-width="1.2"/>
<ellipse transform="translate(231.7 317.3) rotate(29.8)" rx="4.8" ry="8.4" fill="#ddd" stroke="#111" stroke-width="1.3"/>
<ellipse transform="translate(232.1 317.5) rotate(29.8)" rx="3.2" ry="5.6" fill="#333" stroke="#111" stroke-width="0"/>
<ellipse transform="translate(232.6 317.8) rotate(29.8)" rx="1.5" ry="2.6" fill="#aaa" stroke="#111" stroke-width="0"/>
<ellipse transform="translate(245 324.9) rotate(29.8)" rx="6.3" ry="10.1" fill="#151515" stroke="#111" stroke-width="0"/>
<ellipse transform="translate(245.4 325.1) rotate(29.8)" rx="3.8" ry="6.3" fill="#fff" stroke="#111" stroke-width="0.6"/>
<ellipse transform="translate(258.4 332.6) rotate(29.8)" rx="4.2" ry="7.2" fill="none" stroke="#111" stroke-width="0.9"/>
<path d="M284.9 324L303.6 334.7A11.9 20.6 29.8 0 1 303.6 358.5A11.9 20.6 29.8 0 1 283.1 370.4L264.4 359.7A11.9 20.6 29.8 0 1 264.4 336A11.9 20.6 29.8 0 1 284.9 324Z" fill="#fff" stroke="#111" stroke-width="1" stroke-linejoin="round"/>
<path d="M270.1 363A11.9 20.6 29.8 0 1 270 339.2A11.9 20.6 29.8 0 1 290.5 327.2" fill="none" stroke="#111" stroke-width="0.9" stroke-linecap="round"/>
<ellipse transform="translate(293.3 352.6) rotate(29.8)" rx="11.9" ry="20.6" fill="#fff" stroke="#111" stroke-width="1.1"/>
<ellipse transform="translate(293.1 354) rotate(29.8)" rx="5.2" ry="9" fill="#fff" stroke="#111" stroke-width="1.2"/>
<ellipse transform="translate(294.3 353.8) rotate(29.8)" rx="4.2" ry="7.2" fill="none" stroke="#111" stroke-width="1"/>
<ellipse transform="translate(310.2 362.2) rotate(29.8)" rx="6.1" ry="10.6" fill="#111" stroke="#111" stroke-width="0"/>
<ellipse transform="translate(310.7 362.5) rotate(29.8)" rx="3.8" ry="6.6" fill="#fff" stroke="#111" stroke-width="0.6"/>
<path d="M327.5 370.4L335.7 375.1A3.2 5.5 29.8 0 1 335.7 381.5A3.2 5.5 29.8 0 1 330.3 384.7L322 379.9A3.2 5.5 29.8 0 1 322 373.6A3.2 5.5 29.8 0 1 327.5 370.4Z" fill="#fff" stroke="#111" stroke-width="1" stroke-linejoin="round"/>
<path d="M323.7 380.9A3.2 5.5 29.8 0 1 323.7 374.6A3.2 5.5 29.8 0 1 329.2 371.4" fill="none" stroke="#111" stroke-width="0.9" stroke-linecap="round"/>
<path d="M324.8 381.5A3.2 5.5 29.8 0 1 324.8 375.2A3.2 5.5 29.8 0 1 330.3 372" fill="none" stroke="#111" stroke-width="0.8" stroke-linecap="round"/>
<path d="M335.8 373.9L338.9 375.6A3.8 6.6 29.8 0 1 338.9 383.3A3.8 6.6 29.8 0 1 332.3 387.1L329.3 385.4A3.8 6.6 29.8 0 1 329.3 377.7A3.8 6.6 29.8 0 1 335.8 373.9Z" fill="#333" stroke="#111" stroke-width="1" stroke-linejoin="round"/>
<path d="M329.7 385.6A3.8 6.6 29.8 0 1 329.7 378A3.8 6.6 29.8 0 1 336.3 374.2" fill="none" stroke="#aaa" stroke-width="0.7" stroke-linecap="round"/>
<path d="M330.7 386.2A3.8 6.6 29.8 0 1 330.6 378.5A3.8 6.6 29.8 0 1 337.2 374.7" fill="none" stroke="#aaa" stroke-width="0.7" stroke-linecap="round"/>
<path d="M331.6 386.7A3.8 6.6 29.8 0 1 331.6 379.1A3.8 6.6 29.8 0 1 338.2 375.2" fill="none" stroke="#aaa" stroke-width="0.7" stroke-linecap="round"/>
<path d="M339.3 375L342.3 376.7A4.3 7.4 29.8 0 1 342.3 385.2A4.3 7.4 29.8 0 1 335 389.5L331.9 387.8A4.3 7.4 29.8 0 1 331.9 379.2A4.3 7.4 29.8 0 1 339.3 375Z" fill="#fff" stroke="#111" stroke-width="1" stroke-linejoin="round"/>
<path d="M332.2 387.9A4.3 7.4 29.8 0 1 332.1 379.4A4.3 7.4 29.8 0 1 339.5 375.1" fill="none" stroke="#111" stroke-width="1" stroke-linecap="round"/>
<ellipse transform="translate(338.6 383.1) rotate(29.8)" rx="4.3" ry="7.4" fill="#fff" stroke="#111" stroke-width="1"/>
<path d="M341.4 378.3L366.6 392.7A3.2 5.6 29.8 0 1 366.6 399.1A3.2 5.6 29.8 0 1 361 402.4L335.8 388A3.2 5.6 29.8 0 1 335.8 381.5A3.2 5.6 29.8 0 1 341.4 378.3Z" fill="#fff" stroke="#111" stroke-width="1" stroke-linejoin="round"/>
<path d="M373.3 410.4 L373.3 436.8 L362.4 430.4 L362.4 403.9Z" fill="#fff" stroke="#222" stroke-width="1.1" stroke-linejoin="round"/>
<path d="M373.3 375.8 L380.5 371.7 L369.7 365.2 L362.4 369.4Z" fill="#fff" stroke="#222" stroke-width="1.1" stroke-linejoin="round"/>
<path d="M380.5 398.1 L403.2 385.1 L392.3 378.7 L369.7 391.6Z" fill="#fff" stroke="#222" stroke-width="1.1" stroke-linejoin="round"/>
<path d="M350.4 415.3 L373.3 402.2 L362.4 395.8 L339.5 408.8Z" fill="#fff" stroke="#222" stroke-width="1.1" stroke-linejoin="round"/>
<path d="M373.3 375.8 L373.3 402.2 L362.4 395.8 L362.4 369.4Z" fill="#fff" stroke="#222" stroke-width="1.1" stroke-linejoin="round"/>
<path d="M350.4 415.3 L350.4 423.5 L339.5 417 L339.5 408.8Z" fill="#fff" stroke="#222" stroke-width="1.1" stroke-linejoin="round"/>
<path d="M373.3 375.8 L380.5 371.7 L380.5 398.1 L403.2 385.1 L403.2 393.3 L380.5 406.3 L380.5 432.7 L373.3 436.8 L373.3 410.4 L350.4 423.5 L350.4 415.3 L373.3 402.2Z" fill="#fff" stroke="#222" stroke-width="1.1" stroke-linejoin="round"/>
<path d="M192.9 111.3L250.2 142.1A6 12.1 28.2 0 1 249.8 155.6A6 12.1 28.2 0 1 238.8 163.4L181.5 132.7A6 12.1 28.2 0 1 181.9 119.1A6 12.1 28.2 0 1 192.9 111.3Z" fill="#fff" stroke="#111" stroke-width="1.1" stroke-linejoin="round"/>
<path d="M182.4 133.1A6 12.1 28.2 0 1 182.7 119.6A6 12.1 28.2 0 1 193.8 111.8" fill="none" stroke="#333" stroke-width="0.9" stroke-linecap="round"/>
<path d="M183.9 134A6 12.1 28.2 0 1 184.3 120.4A6 12.1 28.2 0 1 195.3 112.6" fill="none" stroke="#333" stroke-width="0.9" stroke-linecap="round"/>
<path d="M185.4 134.8A6 12.1 28.2 0 1 185.8 121.3A6 12.1 28.2 0 1 196.9 113.5" fill="none" stroke="#333" stroke-width="0.9" stroke-linecap="round"/>
<path d="M187 135.6A6 12.1 28.2 0 1 187.4 122.1A6 12.1 28.2 0 1 198.4 114.3" fill="none" stroke="#333" stroke-width="0.9" stroke-linecap="round"/>
<path d="M188.5 136.4A6 12.1 28.2 0 1 188.9 122.9A6 12.1 28.2 0 1 200 115.1" fill="none" stroke="#333" stroke-width="0.9" stroke-linecap="round"/>
<path d="M190.1 137.3A6 12.1 28.2 0 1 190.5 123.7A6 12.1 28.2 0 1 201.5 115.9" fill="none" stroke="#333" stroke-width="0.9" stroke-linecap="round"/>
<path d="M191.6 138.1A6 12.1 28.2 0 1 192 124.6A6 12.1 28.2 0 1 203.1 116.8" fill="none" stroke="#333" stroke-width="0.9" stroke-linecap="round"/>
<path d="M193.2 138.9A6 12.1 28.2 0 1 193.5 125.4A6 12.1 28.2 0 1 204.6 117.6" fill="none" stroke="#333" stroke-width="0.9" stroke-linecap="round"/>
<path d="M194.7 139.8A6 12.1 28.2 0 1 195.1 126.2A6 12.1 28.2 0 1 206.1 118.4" fill="none" stroke="#333" stroke-width="0.9" stroke-linecap="round"/>
<path d="M196.2 140.6A6 12.1 28.2 0 1 196.6 127.1A6 12.1 28.2 0 1 207.7 119.3" fill="none" stroke="#333" stroke-width="0.9" stroke-linecap="round"/>
<path d="M197.8 141.4A6 12.1 28.2 0 1 198.2 127.9A6 12.1 28.2 0 1 209.2 120.1" fill="none" stroke="#333" stroke-width="0.9" stroke-linecap="round"/>
<path d="M199.3 142.2A6 12.1 28.2 0 1 199.7 128.7A6 12.1 28.2 0 1 210.8 120.9" fill="none" stroke="#333" stroke-width="0.9" stroke-linecap="round"/>
<path d="M200.9 143.1A6 12.1 28.2 0 1 201.3 129.5A6 12.1 28.2 0 1 212.3 121.7" fill="none" stroke="#333" stroke-width="0.9" stroke-linecap="round"/>
<path d="M202.4 143.9A6 12.1 28.2 0 1 202.8 130.4A6 12.1 28.2 0 1 213.8 122.6" fill="none" stroke="#333" stroke-width="0.9" stroke-linecap="round"/>
<path d="M204 144.7A6 12.1 28.2 0 1 204.3 131.2A6 12.1 28.2 0 1 215.4 123.4" fill="none" stroke="#333" stroke-width="0.9" stroke-linecap="round"/>
<path d="M205.5 145.5A6 12.1 28.2 0 1 205.9 132A6 12.1 28.2 0 1 216.9 124.2" fill="none" stroke="#333" stroke-width="0.9" stroke-linecap="round"/>
<path d="M207 146.4A6 12.1 28.2 0 1 207.4 132.8A6 12.1 28.2 0 1 218.5 125" fill="none" stroke="#333" stroke-width="0.9" stroke-linecap="round"/>
<path d="M208.6 147.2A6 12.1 28.2 0 1 209 133.7A6 12.1 28.2 0 1 220 125.9" fill="none" stroke="#333" stroke-width="0.9" stroke-linecap="round"/>
<path d="M210.1 148A6 12.1 28.2 0 1 210.5 134.5A6 12.1 28.2 0 1 221.6 126.7" fill="none" stroke="#333" stroke-width="0.9" stroke-linecap="round"/>
<path d="M211.7 148.8A6 12.1 28.2 0 1 212.1 135.3A6 12.1 28.2 0 1 223.1 127.5" fill="none" stroke="#333" stroke-width="0.9" stroke-linecap="round"/>
<path d="M213.2 149.7A6 12.1 28.2 0 1 213.6 136.2A6 12.1 28.2 0 1 224.6 128.3" fill="none" stroke="#333" stroke-width="0.9" stroke-linecap="round"/>
<path d="M214.8 150.5A6 12.1 28.2 0 1 215.1 137A6 12.1 28.2 0 1 226.2 129.2" fill="none" stroke="#333" stroke-width="0.9" stroke-linecap="round"/>
<path d="M216.3 151.3A6 12.1 28.2 0 1 216.7 137.8A6 12.1 28.2 0 1 227.7 130" fill="none" stroke="#333" stroke-width="0.9" stroke-linecap="round"/>
<path d="M217.8 152.2A6 12.1 28.2 0 1 218.2 138.6A6 12.1 28.2 0 1 229.3 130.8" fill="none" stroke="#333" stroke-width="0.9" stroke-linecap="round"/>
<path d="M219.4 153A6 12.1 28.2 0 1 219.8 139.5A6 12.1 28.2 0 1 230.8 131.7" fill="none" stroke="#333" stroke-width="0.9" stroke-linecap="round"/>
<path d="M220.9 153.8A6 12.1 28.2 0 1 221.3 140.3A6 12.1 28.2 0 1 232.4 132.5" fill="none" stroke="#333" stroke-width="0.9" stroke-linecap="round"/>
<path d="M222.5 154.6A6 12.1 28.2 0 1 222.8 141.1A6 12.1 28.2 0 1 233.9 133.3" fill="none" stroke="#333" stroke-width="0.9" stroke-linecap="round"/>
<path d="M225.1 156.1A6 12.1 28.2 0 1 225.5 142.5A6 12.1 28.2 0 1 236.5 134.7" fill="none" stroke="#111" stroke-width="0.9" stroke-linecap="round"/>
<path d="M233.5 160.5A6 12.1 28.2 0 1 233.9 147A6 12.1 28.2 0 1 244.9 139.2" fill="none" stroke="#111" stroke-width="0.9" stroke-linecap="round"/>
<path d="M249.1 143.1L253.9 145.7A5.3 10.6 28.2 0 1 253.6 157.6A5.3 10.6 28.2 0 1 243.9 164.4L239 161.8A5.3 10.6 28.2 0 1 239.4 150A5.3 10.6 28.2 0 1 249.1 143.1Z" fill="#fff" stroke="#111" stroke-width="1" stroke-linejoin="round"/>
<path d="M240.4 162.5A5.3 10.6 28.2 0 1 240.7 150.7A5.3 10.6 28.2 0 1 250.4 143.8" fill="none" stroke="#111" stroke-width="2" stroke-linecap="round"/>
<path d="M254.2 144.2L266.9 151A6 12.1 28.2 0 1 266.6 164.6A6 12.1 28.2 0 1 255.5 172.4L242.7 165.5A6 12.1 28.2 0 1 243.1 152A6 12.1 28.2 0 1 254.2 144.2Z" fill="#fff" stroke="#111" stroke-width="1" stroke-linejoin="round"/>
<path d="M248.5 168.6A6 12.1 28.2 0 1 248.8 155.1A6 12.1 28.2 0 1 259.9 147.3" fill="none" stroke="#111" stroke-width="1" stroke-linecap="round"/>
<path d="M250.2 169.5A6 12.1 28.2 0 1 250.6 156A6 12.1 28.2 0 1 261.7 148.2" fill="none" stroke="#111" stroke-width="1.6" stroke-linecap="round"/>
<ellipse transform="translate(261.2 161.7) rotate(28.2)" rx="6" ry="12.1" fill="#fff" stroke="#111" stroke-width="1.1"/>
<ellipse transform="translate(261.5 161.8) rotate(28.2)" rx="4.8" ry="9.6" fill="#fff" stroke="#111" stroke-width="0.9"/>
<ellipse transform="translate(261.8 162) rotate(28.2)" rx="3.9" ry="7.8" fill="#fff" stroke="#111" stroke-width="1"/>
<line x1="262" y1="166" x2="300" y2="186" stroke="#333" stroke-width="0.7"/>
<path d="M303.9 155.1L326.3 161.2A16.8 33.5 25 0 1 328.6 197.5A16.8 33.5 25 0 1 299.3 222.4L278.5 212.7A15.8 31.5 25 0 1 276.3 178.5A15.8 31.5 25 0 1 303.9 155.1Z" fill="#fff" stroke="#111" stroke-width="1.1" stroke-linejoin="round"/>
<path d="M279.5 213.1A15.8 31.5 25 0 1 277.3 178.9A15.8 31.5 25 0 1 304.8 155.5" fill="none" stroke="#111" stroke-width="3.4" stroke-linecap="round"/>
<path d="M282.7 214.6A15.9 31.8 25 0 1 280.5 180.1A15.9 31.8 25 0 1 308.3 156.4" fill="none" stroke="#111" stroke-width="1.8" stroke-linecap="round"/>
<path d="M287.5 217.1A16.2 32.5 25 0 1 285.3 181.8A16.2 32.5 25 0 1 313.7 157.6" fill="none" stroke="#111" stroke-width="0.9" stroke-linecap="round"/>
<path d="M291.8 219.7A16.8 33.5 25 0 1 289.5 183.3A16.8 33.5 25 0 1 318.8 158.4" fill="none" stroke="#111" stroke-width="0.9" stroke-linecap="round"/>
<ellipse transform="translate(312.8 191.8) rotate(25)" rx="16.8" ry="33.5" fill="#fff" stroke="#111" stroke-width="1.1"/>
<ellipse transform="translate(312.9 194.7) rotate(25)" rx="6.7" ry="13.4" fill="#fff" stroke="#111" stroke-width="1.1"/>
<path d="M308.5 205.9A6 12.1 25 0 1 307.7 192.8A6 12.1 25 0 1 318.2 183.8" fill="none" stroke="#222" stroke-width="1" stroke-linecap="round"/>
<path d="M309.6 206.3A6 12.1 25 0 1 308.8 193.2A6 12.1 25 0 1 319.3 184.2" fill="none" stroke="#222" stroke-width="1" stroke-linecap="round"/>
<path d="M310.7 206.7A6 12.1 25 0 1 309.9 193.6A6 12.1 25 0 1 320.4 184.6" fill="none" stroke="#222" stroke-width="1" stroke-linecap="round"/>
<path d="M311.9 207.1A6 12.1 25 0 1 311 194A6 12.1 25 0 1 321.6 185" fill="none" stroke="#222" stroke-width="1" stroke-linecap="round"/>
<path d="M313 207.5A6 12.1 25 0 1 312.2 194.4A6 12.1 25 0 1 322.7 185.5" fill="none" stroke="#222" stroke-width="1" stroke-linecap="round"/>
<path d="M314.1 207.9A6 12.1 25 0 1 313.3 194.8A6 12.1 25 0 1 323.8 185.9" fill="none" stroke="#222" stroke-width="1" stroke-linecap="round"/>
<path d="M315.3 208.3A6 12.1 25 0 1 314.4 195.2A6 12.1 25 0 1 325 186.3" fill="none" stroke="#222" stroke-width="1" stroke-linecap="round"/>
<line x1="314.3" y1="195.2" x2="354.7" y2="209.9" stroke="#333" stroke-width="0.7"/>
<ellipse cx="322.9" cy="180.9" rx="1.4" ry="1.8" fill="#fff" stroke="#222" stroke-width="0.8"/>
<path d="M352.4 193.6 L437 242.4 C459.5 255.4 478 282.5 478 303 L478 326.1 L456.1 337.1 L455.6 315 C455.6 294 441.1 268.1 423.6 258 L331 205.6 Z" fill="#fff" stroke="#222" stroke-width="1.1" stroke-linejoin="round"/>
<path d="M331 205.6 L423.6 258 C441.1 268.1 455.6 294 455.6 315 L456.1 337.1 L435.2 326.1 L434.8 306.3 C434.8 297.2 428.7 286.3 421.4 282.1 L331 229.9 Z" fill="#fff" stroke="#222" stroke-width="1.1" stroke-linejoin="round"/>
<path d="M334.5 200.5 C328 206 327 214 330 222" fill="none" stroke="#111" stroke-width="1.8"/>
<path d="M333 203 C338 198 343 196 347 195" fill="none" stroke="#111" stroke-width="1.2"/>
<ellipse cx="344.6" cy="193.4" rx="2.6" ry="2" fill="#fff" stroke="#222" stroke-width="0.9"/>
<path d="M293.8 253.5 L297 253.5 L297 269.2 L350.8 269.2 L350.8 273.2 L296.3 273.2 Q293.8 273.2 293.8 270.7 Z" fill="#c6c6c6" stroke="#444" stroke-width="0.8"/>
<path d="M363.8 286.5L365.7 277.6A1.6 3.6 -78 0 1 369.6 276.8A1.6 3.6 -78 0 1 372.8 279.1L370.9 288A1.6 3.6 -78 0 1 367 288.8A1.6 3.6 -78 0 1 363.8 286.5Z" fill="#fff" stroke="#111" stroke-width="0.9" stroke-linejoin="round"/>
<path d="M371.2 286.5A1.6 3.6 -78 0 1 367.3 287.3A1.6 3.6 -78 0 1 364.2 285" fill="none" stroke="#111" stroke-width="1.3" stroke-linecap="round"/>
<path d="M371.6 284.5A1.6 3.6 -78 0 1 367.8 285.4A1.6 3.6 -78 0 1 364.6 283" fill="none" stroke="#111" stroke-width="1.3" stroke-linecap="round"/>
<path d="M372 282.6A1.6 3.6 -78 0 1 368.2 283.4A1.6 3.6 -78 0 1 365 281.1" fill="none" stroke="#111" stroke-width="1.3" stroke-linecap="round"/>
<path d="M372.4 280.6A1.6 3.6 -78 0 1 368.6 281.5A1.6 3.6 -78 0 1 365.4 279.1" fill="none" stroke="#111" stroke-width="1.3" stroke-linecap="round"/>
<ellipse transform="translate(369.2 278.4) rotate(-78)" rx="1.6" ry="3.6" fill="#fff" stroke="#111" stroke-width="0.9"/>
<line x1="458.8" y1="338" x2="458.8" y2="386" stroke="#333" stroke-width="0.8"/>
<g transform="translate(460.1 348.2) rotate(-6)"><ellipse rx="10.6" ry="5.6" fill="none" stroke="#222" stroke-width="1.3"/><ellipse cy="-0.3" rx="8.6" ry="4.0" fill="none" stroke="#222" stroke-width="1.1"/></g>
<line x1="458.8" y1="344.3" x2="458.8" y2="352" stroke="#333" stroke-width="0.9"/>
<path d="M451 370 L451 377 A10 3.6 0 0 0 471 377 L471 370 Z" fill="#2a2a2a" stroke="#111" stroke-width="1"/>
<path d="M452.6 371.2 L453.8 376.5 L455 376.5 Z" fill="#eee"/>
<path d="M455.7 371.2 L456.9 376.5 L458.1 376.5 Z" fill="#eee"/>
<path d="M458.8 371.2 L460 376.5 L461.2 376.5 Z" fill="#eee"/>
<path d="M461.9 371.2 L463.1 376.5 L464.3 376.5 Z" fill="#eee"/>
<path d="M465 371.2 L466.2 376.5 L467.4 376.5 Z" fill="#eee"/>
<path d="M468.1 371.2 L469.3 376.5 L470.5 376.5 Z" fill="#eee"/>
<path d="M449.8 366 L450.3 369.5 A11 4 0 0 0 472.2 369.5 L472.6 366 Z" fill="#fff" stroke="#111" stroke-width="1.1"/>
<ellipse cx="461.2" cy="366" rx="11.4" ry="4.2" fill="#fff" stroke="#111" stroke-width="1.3"/>
<ellipse cx="461.2" cy="365.6" rx="8.8" ry="3.0" fill="none" stroke="#333" stroke-width="0.9"/>
<path d="M454.6 360 L454.6 364.5 A6.6 2.4 0 0 0 467.8 364.5 L467.8 360 Z" fill="#fff" stroke="#222" stroke-width="1"/>
<ellipse cx="461.2" cy="360" rx="6.6" ry="2.5" fill="#fff" stroke="#222" stroke-width="1"/>
<line x1="461" y1="357.5" x2="461" y2="360" stroke="#333" stroke-width="0.8"/>
<line x1="460.5" y1="379" x2="460.5" y2="386" stroke="#333" stroke-width="0.8"/>
<path d="M449.6 389.7 L449.6 403.5 A12.8 4.8 0 0 0 475.2 403.5 L475.2 389.7 Z" fill="#fff" stroke="#111" stroke-width="1.1"/>
<path d="M449.6 390.5 A12.8 4.8 0 0 0 475.2 390.5 L475.2 395.5 A12.8 4.8 0 0 1 449.6 395.5 Z" fill="#222"/>
<ellipse cx="462.4" cy="389.7" rx="12.8" ry="4.8" fill="#fff" stroke="#111" stroke-width="1.3"/>
<ellipse cx="462.4" cy="390.3" rx="10.8" ry="3.6" fill="none" stroke="#333" stroke-width="0.9"/>
<path d="M452 402.5 L457.5 404.6 L457.5 407.5" fill="none" stroke="#222" stroke-width="1"/>
<path d="M494.6 402.9 A7.2 7.2 0 0 0 481.7 402.9 L486.8 403.6 A2.35 2.35 0 0 1 486.8 408.3 L481.7 408.4 A7.2 7.2 0 0 0 494.6 408.3 L537 408.3 A7 7 0 0 0 549.8 408 L545.2 407.6 A2.3 2.3 0 0 1 545.2 403 L549.8 402.7 A7 7 0 0 0 537 402.9 Z" fill="#c9c9c9" stroke="#444" stroke-width="0.9" stroke-linejoin="round"/>
<path d="M505.3 405.8 L524.7 405.8" stroke="#666" stroke-width="1.6"/>
<circle cx="499.7" cy="405.6" r="0.9" fill="none" stroke="#666" stroke-width="0.6"/><circle cx="530.2" cy="405.6" r="0.9" fill="none" stroke="#666" stroke-width="0.6"/>
<path d="M159.2 429.4L182.7 442.8A9 15.6 29.7 0 1 182.8 460.8A9 15.6 29.7 0 1 167.2 469.9L143.8 456.6A9 15.6 29.7 0 1 143.7 438.5A9 15.6 29.7 0 1 159.2 429.4Z" fill="#fff" stroke="#111" stroke-width="1.1" stroke-linejoin="round"/>
<path d="M182.4 442.2L189 445.9A9.2 16 29.7 0 1 189.1 464.4A9.2 16 29.7 0 1 173.1 473.7L166.6 470A9.2 16 29.7 0 1 166.5 451.6A9.2 16 29.7 0 1 182.4 442.2Z" fill="#fff" stroke="#111" stroke-width="1" stroke-linejoin="round"/>
<path d="M166.6 470A9.2 16 29.7 0 1 166.5 451.6A9.2 16 29.7 0 1 182.4 442.2" fill="none" stroke="#111" stroke-width="1" stroke-linecap="round"/>
<line x1="178.7" y1="449.9" x2="184.7" y2="453.3" stroke="#222" stroke-width="0.9"/>
<line x1="171.8" y1="460.9" x2="178.3" y2="464.6" stroke="#222" stroke-width="0.9"/>
<path d="M187.6 447.3L196.8 452.5A8.2 14.2 29.7 0 1 196.8 468.9A8.2 14.2 29.7 0 1 182.7 477.1L173.6 471.9A8.2 14.2 29.7 0 1 173.5 455.5A8.2 14.2 29.7 0 1 187.6 447.3Z" fill="#fff" stroke="#111" stroke-width="1" stroke-linejoin="round"/>
<path d="M174 472.2A8.2 14.2 29.7 0 1 173.9 455.8A8.2 14.2 29.7 0 1 188.1 447.5" fill="none" stroke="#111" stroke-width="1" stroke-linecap="round"/>
<path d="M175.7 473.2A8.2 14.2 29.7 0 1 175.7 456.8A8.2 14.2 29.7 0 1 189.8 448.5" fill="none" stroke="#111" stroke-width="1.7" stroke-linecap="round"/>
<path d="M177.5 474.1A8.1 14.1 29.7 0 1 177.4 457.8A8.1 14.1 29.7 0 1 191.5 449.6" fill="none" stroke="#111" stroke-width="0.8" stroke-linecap="round"/>
<ellipse transform="translate(189.7 464.8) rotate(29.7)" rx="8.2" ry="14.2" fill="#fff" stroke="#111" stroke-width="1.1"/>
<ellipse transform="translate(190 464.9) rotate(29.7)" rx="4.9" ry="8.5" fill="#fff" stroke="#111" stroke-width="1"/>
<ellipse transform="translate(190.2 465.1) rotate(29.7)" rx="3.5" ry="6" fill="none" stroke="#111" stroke-width="0.9"/>
<path d="M191.8 461.2L205.2 468.9A2.4 4.1 29.7 0 1 205.2 473.7A2.4 4.1 29.7 0 1 201.2 476L187.7 468.4A2.4 4.1 29.7 0 1 187.7 463.6A2.4 4.1 29.7 0 1 191.8 461.2Z" fill="#fff" stroke="#111" stroke-width="1" stroke-linejoin="round"/>
<path d="M205.2 467.9L214.8 473.3A2.9 5 29.7 0 1 214.8 479.1A2.9 5 29.7 0 1 209.8 482L200.3 476.6A2.9 5 29.7 0 1 200.2 470.8A2.9 5 29.7 0 1 205.2 467.9Z" fill="#1a1a1a" stroke="#111" stroke-width="1" stroke-linejoin="round"/>
<path d="M201.6 477.3A2.9 5 29.7 0 1 201.5 471.5A2.9 5 29.7 0 1 206.5 468.6" fill="none" stroke="#777" stroke-width="0.6" stroke-linecap="round"/>
<path d="M203.6 478.5A2.9 5 29.7 0 1 203.5 472.7A2.9 5 29.7 0 1 208.5 469.8" fill="none" stroke="#777" stroke-width="0.6" stroke-linecap="round"/>
<path d="M205.6 479.6A2.9 5 29.7 0 1 205.5 473.8A2.9 5 29.7 0 1 210.5 470.9" fill="none" stroke="#777" stroke-width="0.6" stroke-linecap="round"/>
<path d="M207.6 480.7A2.9 5 29.7 0 1 207.5 475A2.9 5 29.7 0 1 212.5 472.1" fill="none" stroke="#777" stroke-width="0.6" stroke-linecap="round"/>
<ellipse transform="translate(212.3 477.7) rotate(29.7)" rx="2.9" ry="5" fill="#ddd" stroke="#111" stroke-width="1"/>
<ellipse transform="translate(212.3 477.7) rotate(29.7)" rx="1.3" ry="2.2" fill="#666" stroke="#111" stroke-width="0"/>
<path d="M104.7 467.6L128.2 481A9 15.6 29.7 0 1 128.3 499A9 15.6 29.7 0 1 112.7 508.1L89.3 494.8A9 15.6 29.7 0 1 89.2 476.7A9 15.6 29.7 0 1 104.7 467.6Z" fill="#fff" stroke="#111" stroke-width="1.1" stroke-linejoin="round"/>
<path d="M127.9 480.4L134.5 484.1A9.2 16 29.7 0 1 134.6 502.6A9.2 16 29.7 0 1 118.6 511.9L112.1 508.2A9.2 16 29.7 0 1 112 489.8A9.2 16 29.7 0 1 127.9 480.4Z" fill="#fff" stroke="#111" stroke-width="1" stroke-linejoin="round"/>
<path d="M112.1 508.2A9.2 16 29.7 0 1 112 489.8A9.2 16 29.7 0 1 127.9 480.4" fill="none" stroke="#111" stroke-width="1" stroke-linecap="round"/>
<line x1="124.2" y1="488.1" x2="130.2" y2="491.5" stroke="#222" stroke-width="0.9"/>
<line x1="117.3" y1="499.1" x2="123.8" y2="502.8" stroke="#222" stroke-width="0.9"/>
<path d="M133.1 485.5L142.3 490.7A8.2 14.2 29.7 0 1 142.3 507.1A8.2 14.2 29.7 0 1 128.2 515.3L119.1 510.1A8.2 14.2 29.7 0 1 119 493.7A8.2 14.2 29.7 0 1 133.1 485.5Z" fill="#fff" stroke="#111" stroke-width="1" stroke-linejoin="round"/>
<path d="M119.5 510.4A8.2 14.2 29.7 0 1 119.4 494A8.2 14.2 29.7 0 1 133.6 485.7" fill="none" stroke="#111" stroke-width="1" stroke-linecap="round"/>
<path d="M121.2 511.4A8.2 14.2 29.7 0 1 121.2 495A8.2 14.2 29.7 0 1 135.3 486.7" fill="none" stroke="#111" stroke-width="1.7" stroke-linecap="round"/>
<path d="M123 512.3A8.1 14.1 29.7 0 1 122.9 496A8.1 14.1 29.7 0 1 137 487.8" fill="none" stroke="#111" stroke-width="0.8" stroke-linecap="round"/>
<ellipse transform="translate(135.2 503) rotate(29.7)" rx="8.2" ry="14.2" fill="#fff" stroke="#111" stroke-width="1.1"/>
<ellipse transform="translate(135.5 503.1) rotate(29.7)" rx="4.9" ry="8.5" fill="#fff" stroke="#111" stroke-width="1"/>
<ellipse transform="translate(135.7 503.3) rotate(29.7)" rx="3.5" ry="6" fill="none" stroke="#111" stroke-width="0.9"/>
<path d="M137.3 499.4L150.7 507.1A2.4 4.1 29.7 0 1 150.7 511.9A2.4 4.1 29.7 0 1 146.7 514.2L133.2 506.6A2.4 4.1 29.7 0 1 133.2 501.8A2.4 4.1 29.7 0 1 137.3 499.4Z" fill="#fff" stroke="#111" stroke-width="1" stroke-linejoin="round"/>
<path d="M150.7 506.1L160.3 511.5A2.9 5 29.7 0 1 160.3 517.3A2.9 5 29.7 0 1 155.3 520.2L145.8 514.8A2.9 5 29.7 0 1 145.7 509A2.9 5 29.7 0 1 150.7 506.1Z" fill="#1a1a1a" stroke="#111" stroke-width="1" stroke-linejoin="round"/>
<path d="M147.1 515.5A2.9 5 29.7 0 1 147 509.7A2.9 5 29.7 0 1 152 506.8" fill="none" stroke="#777" stroke-width="0.6" stroke-linecap="round"/>
<path d="M149.1 516.7A2.9 5 29.7 0 1 149 510.9A2.9 5 29.7 0 1 154 508" fill="none" stroke="#777" stroke-width="0.6" stroke-linecap="round"/>
<path d="M151.1 517.8A2.9 5 29.7 0 1 151 512A2.9 5 29.7 0 1 156 509.1" fill="none" stroke="#777" stroke-width="0.6" stroke-linecap="round"/>
<path d="M153.1 518.9A2.9 5 29.7 0 1 153 513.2A2.9 5 29.7 0 1 158 510.3" fill="none" stroke="#777" stroke-width="0.6" stroke-linecap="round"/>
<ellipse transform="translate(157.8 515.9) rotate(29.7)" rx="2.9" ry="5" fill="#ddd" stroke="#111" stroke-width="1"/>
<ellipse transform="translate(157.8 515.9) rotate(29.7)" rx="1.3" ry="2.2" fill="#666" stroke="#111" stroke-width="0"/>
<path d="M264.2 493.2L278.8 501.9A6.2 12.5 31 0 1 277.7 515.8A6.2 12.5 31 0 1 265.9 523.3L251.4 514.6A6.2 12.5 31 0 1 252.4 500.6A6.2 12.5 31 0 1 264.2 493.2Z" fill="#fff" stroke="#111" stroke-width="1" stroke-linejoin="round"/>
<path d="M252.6 515.4A6.2 12.5 31 0 1 253.7 501.4A6.2 12.5 31 0 1 265.5 493.9" fill="none" stroke="#111" stroke-width="1.2" stroke-linecap="round"/>
<path d="M254.9 516.7A6.2 12.5 31 0 1 256 502.8A6.2 12.5 31 0 1 267.8 495.3" fill="none" stroke="#111" stroke-width="1.2" stroke-linecap="round"/>
<path d="M257.1 518A6.2 12.5 31 0 1 258.2 504.1A6.2 12.5 31 0 1 270 496.6" fill="none" stroke="#111" stroke-width="1.2" stroke-linecap="round"/>
<path d="M259.3 519.4A6.2 12.5 31 0 1 260.4 505.4A6.2 12.5 31 0 1 272.2 497.9" fill="none" stroke="#111" stroke-width="1.2" stroke-linecap="round"/>
<path d="M261.6 520.7A6.2 12.5 31 0 1 262.6 506.8A6.2 12.5 31 0 1 274.4 499.3" fill="none" stroke="#111" stroke-width="1.2" stroke-linecap="round"/>
<path d="M279.7 496.6L303.3 509.6A9.2 18.5 31 0 1 301.7 530.3A9.2 18.5 31 0 1 284.3 541.4L261.6 526.6A8.8 17.5 31 0 1 263.2 507.1A8.8 17.5 31 0 1 279.7 496.6Z" fill="#fff" stroke="#111" stroke-width="1.1" stroke-linejoin="round"/>
<ellipse transform="translate(293.8 525.5) rotate(31)" rx="9.2" ry="18.5" fill="#fff" stroke="#111" stroke-width="1.1"/>
<ellipse transform="translate(294 525.6) rotate(31)" rx="8" ry="15.9" fill="#fff" stroke="#111" stroke-width="1"/>
<path d="M302.9 514.2A7.8 15.5 31 0 1 299.6 529A7.8 15.5 31 0 1 288.1 538.8" fill="none" stroke="#111" stroke-width="0.9" stroke-linecap="round"/>
<path d="M301.2 513.7A7.5 15 31 0 1 298 528A7.5 15 31 0 1 286.9 537.6" fill="none" stroke="#111" stroke-width="0.9" stroke-linecap="round"/>
<path d="M299.5 513.3A7.3 14.5 31 0 1 296.4 527.1A7.3 14.5 31 0 1 285.7 536.3" fill="none" stroke="#111" stroke-width="0.9" stroke-linecap="round"/>
<path d="M297.8 512.8A7 14 31 0 1 294.8 526.1A7 14 31 0 1 284.5 535" fill="none" stroke="#111" stroke-width="0.9" stroke-linecap="round"/>
<path d="M296.1 512.3A6.8 13.5 31 0 1 293.3 525.2A6.8 13.5 31 0 1 283.2 533.7" fill="none" stroke="#111" stroke-width="0.9" stroke-linecap="round"/>
<path d="M328 26.5 L380.8 17.6 L380 46.4" fill="none" stroke="#444" stroke-width="0.8" stroke-linejoin="round"/>
<path d="M444.3 54.2 L440.7 60.8 L440.7 80" fill="none" stroke="#444" stroke-width="0.8" stroke-linejoin="round"/>
<path d="M455.5 74.6 L467.9 67.7 L467.9 90" fill="none" stroke="#444" stroke-width="0.8" stroke-linejoin="round"/>
<path d="M475.4 126.9 L496 91.5 L697 207.1 L677.5 239.5" fill="none" stroke="#444" stroke-width="0.8" stroke-linejoin="round"/>
<path d="M599.4 143.4 L596.3 148.9" fill="none" stroke="#444" stroke-width="0.8" stroke-linejoin="round"/>
<path d="M231.1 97.9 L217.4 120.7" fill="none" stroke="#444" stroke-width="0.8" stroke-linejoin="round"/>
<path d="M280.7 125.7 L266.3 150.5" fill="none" stroke="#444" stroke-width="0.8" stroke-linejoin="round"/>
<path d="M311.7 155.9 L323.5 149.3 L322.3 159.6" fill="none" stroke="#444" stroke-width="0.8" stroke-linejoin="round"/>
<path d="M359.8 171.3 L349.1 191.1" fill="none" stroke="#444" stroke-width="0.8" stroke-linejoin="round"/>
<path d="M439.7 218.4 L431.2 233.1" fill="none" stroke="#444" stroke-width="0.8" stroke-linejoin="round"/>
<path d="M359.1 296.4 L379.7 260.4" fill="none" stroke="#444" stroke-width="0.8" stroke-linejoin="round"/>
<path d="M131 297 L131 325.2 L148.8 313.3" fill="none" stroke="#444" stroke-width="0.8" stroke-linejoin="round"/>
<path d="M480 346.4 L498.6 366.4 L479.3 366.4" fill="none" stroke="#444" stroke-width="0.8" stroke-linejoin="round"/>
<path d="M498.6 366.4 L482.1 395.7" fill="none" stroke="#444" stroke-width="0.8" stroke-linejoin="round"/>
<path d="M98.6 460.7 L98.6 437.2 L140.9 437.2" fill="none" stroke="#444" stroke-width="0.8" stroke-linejoin="round"/>
<path d="M322.6 454.9 L295.4 501.8" fill="none" stroke="#444" stroke-width="0.8" stroke-linejoin="round"/>
<text transform="translate(387 14) scale(1.1 1)" font-size="16" fill="#222">7</text>
<text transform="translate(446.2 50) scale(1.1 1)" font-size="16" fill="#222">2</text>
<text transform="translate(470.4 61.5) scale(1.1 1)" font-size="16" fill="#222">4</text>
<text transform="translate(599.3 138) scale(1.1 1)" font-size="16" fill="#222">1</text>
<text transform="translate(231.2 92) scale(1.1 1)" font-size="16" fill="#222">13</text>
<text transform="translate(283.2 120) scale(1.1 1)" font-size="16" fill="#222">8</text>
<text transform="translate(325.3 142) scale(1.1 1)" font-size="16" fill="#222">5</text>
<text transform="translate(362.5 166.3) scale(1.1 1)" font-size="16" fill="#222">9</text>
<text transform="translate(438.4 213.3) scale(1.1 1)" font-size="16" fill="#222">11</text>
<text transform="translate(336.4 320.5) scale(1.1 1)" font-size="16" fill="#222">12</text>
<text transform="translate(122.2 349) scale(1.1 1)" font-size="16" fill="#222">3</text>
<text transform="translate(507.4 373.3) scale(1.1 1)" font-size="16" fill="#222">6</text>
<text transform="translate(75.6 432) scale(1.1 1)" font-size="16" fill="#222">10</text>
<text transform="translate(321.6 448.4) scale(1.1 1)" font-size="16" fill="#222">14</text>
<text transform="translate(286.2 289.8) scale(1.1 1)" font-size="16" fill="#222">SW 3 mm</text>
<text transform="translate(476.5 432.5) scale(1.1 1)" font-size="16" fill="#222">SW 19 mm</text>
</svg>
</body></html>
